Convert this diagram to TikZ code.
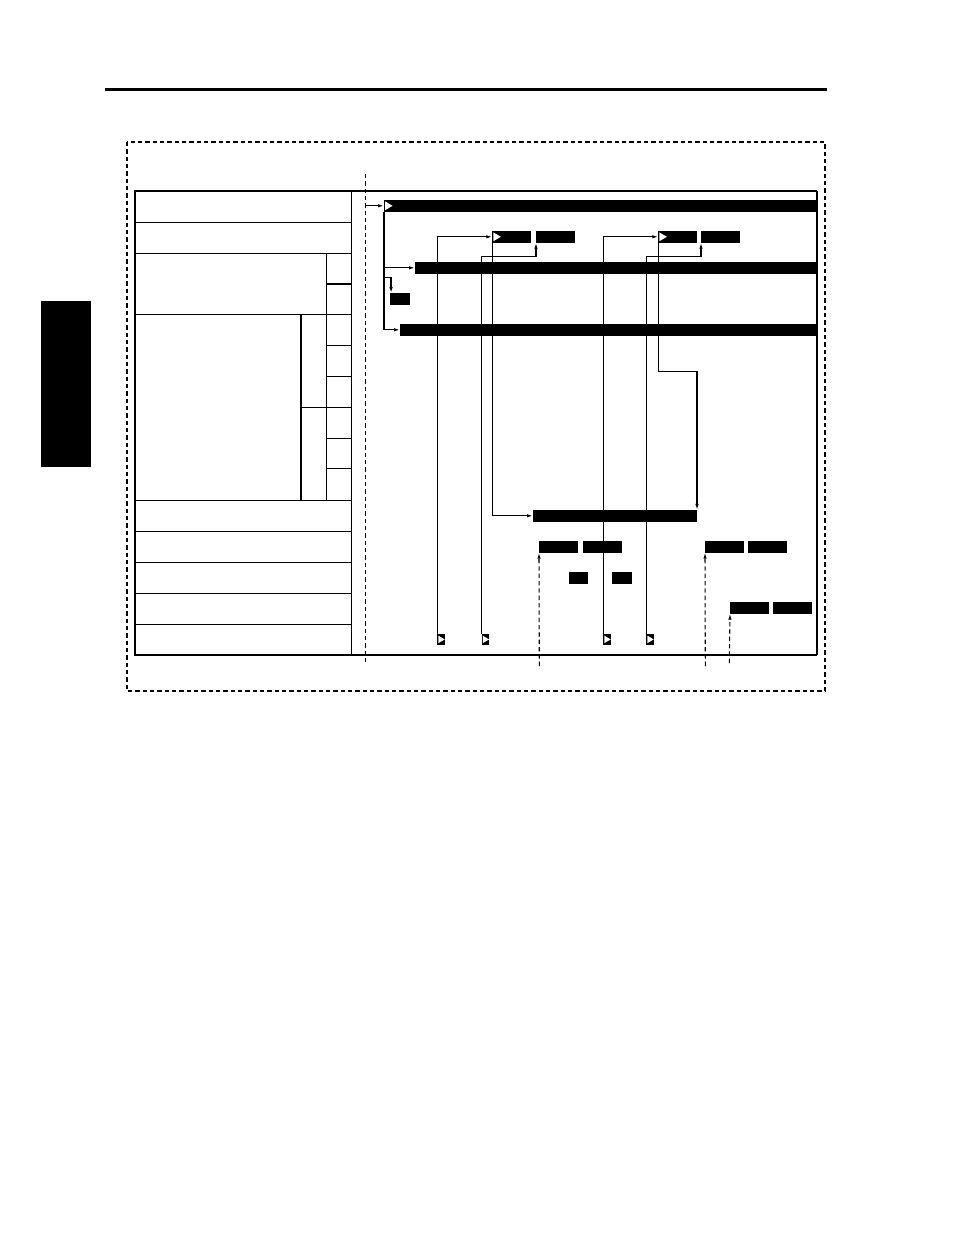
\documentclass[tikz,border=0pt]{standalone}
\usetikzlibrary{arrows.meta}
\begin{document}
\begin{tikzpicture}
        [x=0.75pt,y=-0.75pt,line width=0.9pt,>={Latex[length=4.5pt,width=2.6pt]},
         box/.style={fill=black,inner sep=0pt,outer sep=0pt,minimum height=8.8pt,anchor=west},
         len/.style={minimum width=#1*0.75pt},
         tri/.style={path picture={\fill[white]
           ([shift={(0.8pt,#1)}]path picture bounding box.west) --
           ([shift={(0.8pt,-#1)}]path picture bounding box.west) --
           ([shift={(0.8pt+1.7*#1,0pt)}]path picture bounding box.west) -- cycle;}},
         flag/.style={box,len=7.7,minimum height=8.2pt,tri=2.8pt},
         guide/.style={line width=0.8pt,dash pattern=on 3.2pt off 2.3pt}]
        \useasboundingbox (0,0) rectangle (954,1235);
        \draw[line width=2.3pt] (105,89.5) -- (827,89.5);
        \fill (41,301) rectangle (91,467);
        \draw[guide] (127,142) rectangle (825,691);
        \draw[guide] (365.7,174) -- (365.7,663);
        \draw[line width=1.5pt] (817,191) -- (135,191) -- (135,655) -- (817,655);
        \draw (817,191) -- (817,655);
        \draw (351.5,191) -- (351.5,655);
        \foreach \y in {222.3,253.3,314.5,500.5,531.7,562.7,593.7,624.7}
          \draw (135,\y) -- (351.5,\y);
        \foreach \y in {284,345.3,376.3,438.3,468.3}
          \draw (326.5,\y) -- (351.5,\y);
        \draw (301,407.3) -- (351.5,407.3);
        \draw (326.5,253.3) -- (326.5,500.5);
        \draw (301,314.5) -- (301,500.5);
        \node[box,len=433,tri=3.3pt] (b1) at (384,205.8) {};
        \node[box,len=402] (b2) at (415,267.8) {};
        \node[box,len=417] (b3) at (400,329.8) {};
        \node[box,len=20] (sm1) at (390,299) {};
        \node[box,len=164] (b4) at (533,515.8) {};
        \node[box,len=39,tri=3.3pt] (pA) at (492.3,236.8) {};
        \node[box,len=39] (pB) at (536,236.8) {};
        \node[box,len=39,tri=3.3pt] (pC) at (658.3,236.8) {};
        \node[box,len=39] (pD) at (701,236.8) {};
        \foreach \n/\x/\y in {pE/539/546.8,pF/583/546.8,pG/705/546.8,pH/748/546.8,
                              pI/730/607.8,pJ/773/607.8}
          \node[box,len=39] (\n) at (\x,\y) {};
        \node[box,len=19] (s2) at (569,577.8) {};
        \node[box,len=20] (s3) at (612,577.8) {};
        \foreach \n/\x in {m1/437.3,m2/481.7,m3/603.3,m4/646.3}
          \node[flag] (\n) at (\x,639.4) {};
        \coordinate (go) at (365.7,205.8);
        \coordinate (fork) at (384,277.3);
        \coordinate (lo) at (0,256.3);
        \coordinate (mid) at (0,371.3);
        \draw[->] (go) -- (b1.west);
        \foreach \to in {b2,b3}
          \draw[->] (b1.south west) |- (\to.west);
        \draw[->] (fork) -| ([xshift=0.8pt]sm1.north west);
        \foreach \from/\to in {m1/pA,m3/pC}
          \draw[->] (\from.north west) |- (\to.west);
        \foreach \from/\to in {m2/pB,m4/pD}
          \draw[->] (\from.north west) -- (\from.north west |- lo) -| (\to.south west);
        \draw[->] (pA.south west) |- (b4.west);
        \draw[->] (pC.south west) -- (pC.south west |- mid) -| (b4.north east);
        \foreach \n/\x/\y/\to in {t1/539.3/666/pE,t2/705.3/666/pG,t3/729.3/663/pI}
          {\coordinate (\n) at (\x,\y);
           \draw[guide,->] (\n) -- (\to.south west);}
      \end{tikzpicture}
\end{document}
